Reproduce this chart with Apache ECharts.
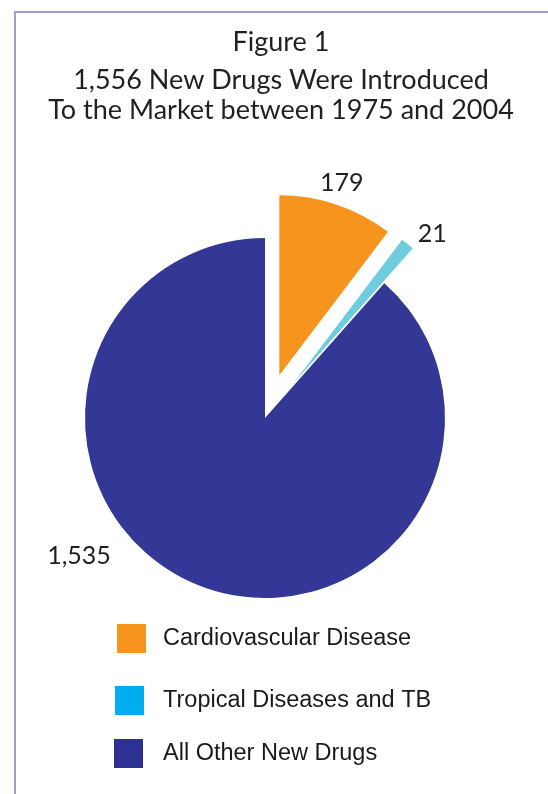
<!DOCTYPE html>
<html>
<head>
<meta charset="utf-8">
<script src="https://cdn.jsdelivr.net/npm/echarts@6/dist/echarts.min.js"></script>
<style>
  html, body { margin: 0; padding: 0; background: #fff; }
  #frame { position: absolute; left: 14px; top: 11px; right: 0; bottom: 0;
           border-top: 2px solid #9d9dd3; border-left: 2px solid #9d9dd3; }
  #chart { position: absolute; left: 0; top: 0; width: 548px; height: 794px; }
</style>
</head>
<body>
<div id="frame"></div>
<div id="chart"></div>
<script>
  // data
  var categories = ['Cardiovascular Disease', 'Tropical Diseases and TB', 'All Other New Drugs'];
  var values = [179, 21, 1535];
  var valueLabels = ['179', '21', '1,535'];
  var exploded = [true, true, false];

  var pieColors = ['#f7941d', '#6dcddc', '#333795'];
  var legendColors = ['#f7941d', '#00aeef', '#2e3192'];
  var legendTops = [624, 686, 739];
  var legendLefts = [117, 115, 114];
  var legendTextX = 163;
  // hidden label line lengths put the exploded slices' labels in place
  var labelLens = [[23, -29], [13, -3], [15, 15]];
  var bigLabelPos = [79, 556];

  var chart = echarts.init(document.getElementById('chart'), null, { renderer: 'canvas' });

  var legends = categories.map(function (name, i) {
    return {
      orient: 'vertical',
      left: legendLefts[i],
      top: legendTops[i],
      padding: 0,
      itemWidth: 29,
      itemHeight: 29,
      selectedMode: false,
      textStyle: {
        fontFamily: 'Liberation Sans',
        fontSize: 23.5,
        color: '#1a1a1a',
        padding: [0, 0, 0, legendTextX - legendLefts[i] - 34]
      },
      data: [{ name: name, icon: 'rect', itemStyle: { color: legendColors[i] } }]
    };
  });

  var titleFont = { fontFamily: 'Lato', fontSize: 27, fontWeight: 'normal', color: '#231f20', lineHeight: 30 };

  chart.setOption({
    animation: false,
    title: [{
      text: 'Figure 1',
      left: 276,
      top: 22,
      textAlign: 'center',
      textStyle: titleFont
    }, {
      text: '1,556 New Drugs Were Introduced\nTo the Market between 1975 and 2004',
      left: 276,
      top: 60,
      textAlign: 'center',
      textStyle: titleFont
    }],
    legend: legends,
    series: [{
      type: 'pie',
      center: [265, 418],
      radius: 180,
      startAngle: 90,
      clockwise: true,
      selectedMode: 'multiple',
      selectedOffset: 45,
      avoidLabelOverlap: false,
      emphasis: { disabled: true },
      label: {
        show: true,
        position: 'outside',
        fontFamily: 'Lato',
        fontSize: 25,
        color: '#231f20',
        formatter: function (p) { return valueLabels[p.dataIndex]; }
      },
      labelLine: { show: false },
      labelLayout: function (p) {
        if (p.dataIndex !== 2) return {};
        return { x: bigLabelPos[0], y: bigLabelPos[1], align: 'center', verticalAlign: 'middle' };
      },
      data: categories.map(function (name, i) {
        return {
          name: name,
          value: values[i],
          selected: exploded[i],
          itemStyle: { color: pieColors[i] },
          labelLine: { show: false, length: labelLens[i][0], length2: labelLens[i][1] }
        };
      })
    }]
  });
</script>
</body>
</html>
